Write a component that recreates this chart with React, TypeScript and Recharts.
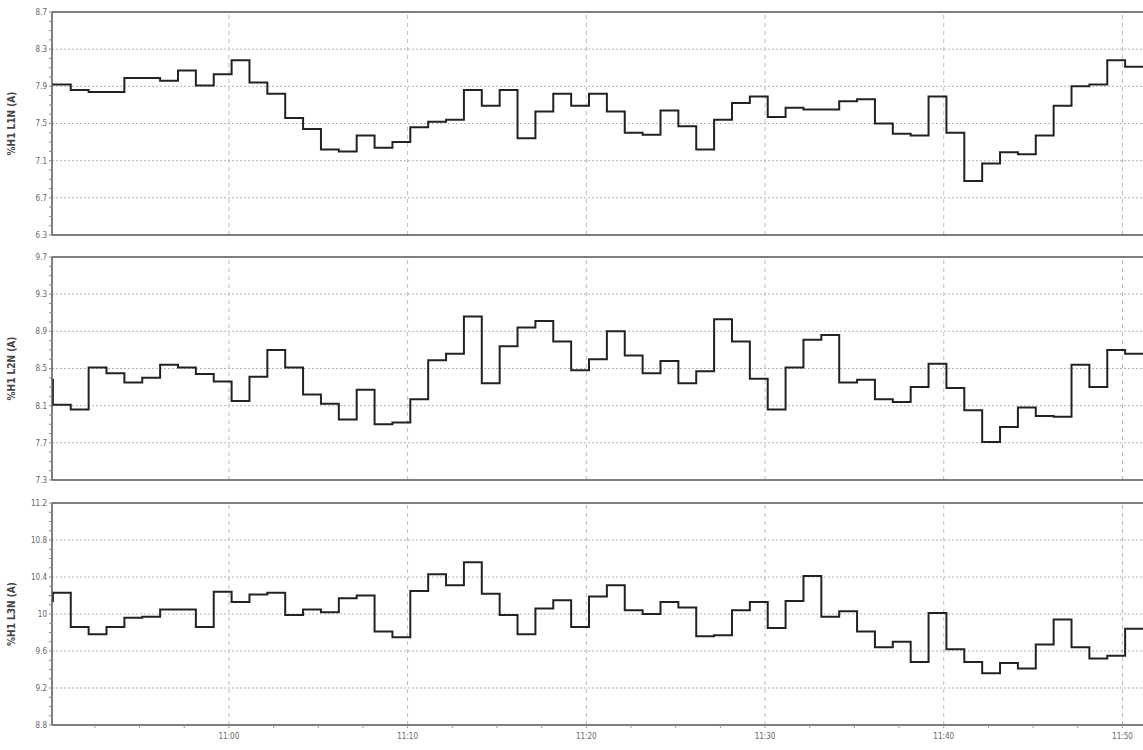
import { LineChart, Line, XAxis, YAxis, ReferenceLine } from "recharts";

// time axis: minutes after 10:50, one sample per minute
const TIME_LABELS = ["11:00", "11:10", "11:20", "11:30", "11:40", "11:50"];
const TIME_LABEL_POS = [10, 20, 30, 40, 50, 60];
const X_DOMAIN: [number, number] = [0.1, 61.15];
const STEP_OFFSET = 0.15;
const X_MINOR_STEP = 2.5;

// first value is the sample just before the visible window
const L1N = [
  7.92, 7.92, 7.86, 7.84, 7.84, 7.99, 7.99, 7.96, 8.07, 7.91, 8.03, 8.18, 7.94,
  7.82, 7.56, 7.44, 7.22, 7.2, 7.37, 7.24, 7.3, 7.46, 7.52, 7.54, 7.86, 7.69,
  7.86, 7.34, 7.63, 7.82, 7.69, 7.82, 7.63, 7.4, 7.38, 7.64, 7.47, 7.22, 7.54,
  7.72, 7.79, 7.57, 7.67, 7.65, 7.65, 7.74, 7.76, 7.5, 7.39, 7.37, 7.79, 7.4,
  6.88, 7.07, 7.19, 7.17, 7.37, 7.69, 7.9, 7.92, 8.18, 8.11,
];
const L2N = [
  8.38, 8.11, 8.06, 8.51, 8.45, 8.35, 8.4, 8.54, 8.51, 8.44, 8.36, 8.15, 8.41,
  8.7, 8.51, 8.22, 8.12, 7.95, 8.27, 7.9, 7.92, 8.17, 8.59, 8.66, 9.06, 8.34,
  8.74, 8.94, 9.01, 8.79, 8.48, 8.6, 8.9, 8.64, 8.45, 8.58, 8.34, 8.47, 9.03,
  8.79, 8.39, 8.06, 8.51, 8.81, 8.86, 8.35, 8.38, 8.17, 8.14, 8.3, 8.55, 8.29,
  8.05, 7.71, 7.87, 8.08, 7.99, 7.98, 8.54, 8.3, 8.7, 8.66,
];
const L3N = [
  10.14, 10.23, 9.86, 9.78, 9.86, 9.96, 9.97, 10.05, 10.05, 9.86, 10.24, 10.13,
  10.21, 10.23, 9.99, 10.05, 10.02, 10.17, 10.2, 9.81, 9.75, 10.25, 10.43,
  10.31, 10.56, 10.22, 9.99, 9.78, 10.06, 10.15, 9.86, 10.19, 10.31, 10.04, 10.0,
  10.13, 10.07, 9.76, 9.77, 10.04, 10.13, 9.85, 10.14, 10.41, 9.97, 10.03, 9.81,
  9.64, 9.7, 9.48, 10.01, 9.62, 9.48, 9.36, 9.47, 9.41, 9.67, 9.94, 9.64, 9.52,
  9.55, 9.84,
];

const L1N_TICKS = [6.3, 6.7, 7.1, 7.5, 7.9, 8.3, 8.7];
const L2N_TICKS = [7.3, 7.7, 8.1, 8.5, 8.9, 9.3, 9.7];
const L3N_TICKS = [8.8, 9.2, 9.6, 10, 10.4, 10.8, 11.2];

const FONT = "'Liberation Sans Narrow', 'DejaVu Sans Condensed', 'Liberation Sans', Arial, sans-serif";

function toRows(values: number[]) {
  const rows = values.map((v, i) => ({ t: i - 1 + STEP_OFFSET, v }));
  rows.push({ t: X_DOMAIN[1], v: values[values.length - 1] });
  return rows;
}

function minorTicks(majors: number[]) {
  const out: number[] = [];
  for (let i = 0; i < majors.length - 1; i++) {
    const step = (majors[i + 1] - majors[i]) / 4;
    for (let k = 0; k < 4; k++) out.push(Math.round((majors[i] + k * step) * 100) / 100);
  }
  out.push(majors[majors.length - 1]);
  return out;
}

const xTicks: number[] = [];
for (let m = X_MINOR_STEP; m <= 60; m += X_MINOR_STEP) xTicks.push(m);

type PanelProps = {
  values: number[];
  majors: number[];
  title: string;
  top: number;
  height: number;
  marginTop: number;
  showTime?: boolean;
};

function Panel({ values, majors, title, top, height, marginTop, showTime }: PanelProps) {
  const lo = majors[0];
  const hi = majors[majors.length - 1];
  const isMajor = (v: number) => majors.some((m) => Math.abs(m - v) < 1e-6);
  return (
    <div style={{ position: "absolute", left: 0, top }}>
      <LineChart
        width={1143}
        height={height}
        data={toRows(values)}
        margin={{ top: marginTop, right: 0, bottom: 0, left: 0 }}
      >
        <XAxis
          dataKey="t"
          type="number"
          domain={X_DOMAIN}
          allowDataOverflow
          ticks={xTicks}
          interval={0}
          height={showTime ? 25 : 10}
          tickSize={3}
          tickMargin={5}
          axisLine={{ stroke: "#555", strokeWidth: 1.5 }}
          tickLine={{ stroke: "#999" }}
          tick={showTime ? { fontSize: 8, fill: "#666" } : false}
          tickFormatter={(v: number) => {
            const i = TIME_LABEL_POS.indexOf(v);
            return i >= 0 ? TIME_LABELS[i] : "";
          }}
        />
        <YAxis
          type="number"
          domain={[lo, hi]}
          allowDataOverflow
          ticks={minorTicks(majors)}
          interval={0}
          width={52}
          tickSize={3}
          tickMargin={2}
          axisLine={{ stroke: "#555", strokeWidth: 1.5 }}
          tickLine={{ stroke: "#888" }}
          tick={{ fontSize: 8, fill: "#666" }}
          tickFormatter={(v: number) => (isMajor(v) ? String(Number(v.toFixed(1))) : "")}
          label={(p: any) => {
            const vb = p.viewBox || { x: 0, y: marginTop, width: 52, height: 223 };
            const cy = vb.y + vb.height / 2;
            return (
              <text
                x={15}
                y={cy}
                transform={`rotate(-90, 15, ${cy})`}
                textAnchor="middle"
                fontSize={10}
                fontWeight={600}
                fill="#444"
              >
                {title}
              </text>
            );
          }}
        />
        {majors.slice(1, -1).map((m) => (
          <ReferenceLine key={"h" + m} y={m} stroke="#b4b4b4" strokeDasharray="2 2" />
        ))}
        {TIME_LABEL_POS.map((x) => (
          <ReferenceLine key={"v" + x} x={x} stroke="#bcbcbc" strokeDasharray="4 4" />
        ))}
        <ReferenceLine y={hi} stroke="#555" strokeWidth={1.5} />
        <Line
          type="stepAfter"
          dataKey="v"
          stroke="#222"
          strokeWidth={2}
          dot={false}
          isAnimationActive={false}
        />
      </LineChart>
    </div>
  );
}

export default function App() {
  return (
    <div
      style={{
        position: "absolute",
        left: 0,
        top: 0,
        width: 1143,
        height: 750,
        overflow: "hidden",
        background: "#fff",
        fontFamily: FONT,
      }}
    >
      <Panel values={L1N} majors={L1N_TICKS} title="%H1 L1N (A)" top={0} height={245} marginTop={12} />
      <Panel values={L2N} majors={L2N_TICKS} title="%H1 L2N (A)" top={245} height={245} marginTop={12} />
      <Panel values={L3N} majors={L3N_TICKS} title="%H1 L3N (A)" top={490} height={260} marginTop={13} showTime />
    </div>
  );
}
